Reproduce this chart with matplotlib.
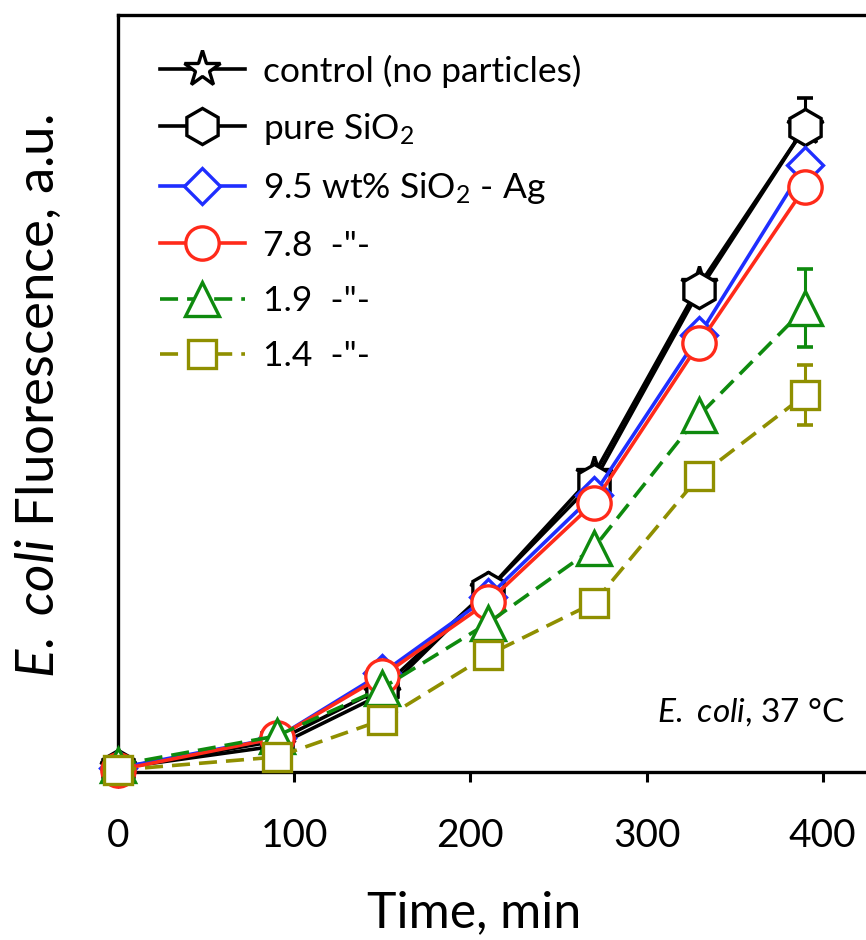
import matplotlib
matplotlib.use("Agg")
import matplotlib.pyplot as plt

plt.rcParams['font.family'] = ['Lato', 'DejaVu Sans']
plt.rcParams['mathtext.fontset'] = 'custom'
plt.rcParams['mathtext.rm'] = 'Lato'
plt.rcParams['mathtext.it'] = 'Lato:italic'

time = [0, 90, 150, 210, 270, 330, 390]
control = [0.04, 0.26, 0.78, 1.82, 2.97, 4.87, 6.45]
pure_sio2 = [0.04, 0.31, 0.84, 1.82, 2.90, 4.82, 6.45]
ag_95 = [0.04, 0.34, 0.99, 1.75, 2.77, 4.37, 6.07]
ag_78 = [0.02, 0.34, 0.96, 1.70, 2.69, 4.29, 5.85]
ag_19 = [0.07, 0.36, 0.84, 1.49, 2.24, 3.57, 4.64]
ag_14 = [0.02, 0.15, 0.52, 1.17, 1.69, 2.96, 3.77]

err_time = 390
err_control = 0.29
err_19 = 0.39
err_14 = 0.30

labels = ["control (no particles)", "pure SiO$_2$", "9.5 wt% SiO$_2$ - Ag",
          "7.8  -\"-", "1.9  -\"-", "1.4  -\"-"]

W, H = 866, 940
fig = plt.figure(figsize=(W/100, H/100), dpi=100)
ax = fig.add_axes([118/W, (H-772)/H, (880-118)/W, (772-15)/H])

blue = '#1F2EFF'
red = '#FF2A1A'
green = '#0E8A0E'
olive = '#8F8F00'
lw = 2.6
mew = 2.4

common = dict(markerfacecolor='white', markeredgewidth=mew, linewidth=lw, clip_on=False)
ax.plot(time, control, color='black', marker='*', markersize=27, zorder=3, label=labels[0], **common)
ax.plot(time, pure_sio2, color='black', marker='h', markersize=26, zorder=3.5, label=labels[1], **common)
ax.plot(time, ag_95, color=blue, marker='D', markersize=18, zorder=4, label=labels[2], **common)
ax.plot(time, ag_78, color=red, marker='o', markersize=24, zorder=5, label=labels[3], **common)
ax.plot(time, ag_19, color=green, marker='^', markersize=24, zorder=7, linestyle=(0, (5, 2.5)), label=labels[4], **common)
ax.plot(time, ag_14, color=olive, marker='s', markersize=20, zorder=8, linestyle=(0, (5, 2.5)), label=labels[5], **common)

i = time.index(err_time)
ax.errorbar([err_time], [control[i]], yerr=[err_control], fmt='none', ecolor='black',
            elinewidth=2.2, capsize=6, capthick=2.6, zorder=2)
ax.errorbar([err_time], [ag_19[i]], yerr=[err_19], fmt='none', ecolor=green,
            elinewidth=2.2, capsize=6, capthick=2.6, zorder=2)
ax.errorbar([err_time], [ag_14[i]], yerr=[err_14], fmt='none', ecolor=olive,
            elinewidth=2.2, capsize=6, capthick=2.6, zorder=2)

ax.set_xlim(0, 432.5)
ax.set_ylim(0, 7.57)
ax.set_xticks([0, 100, 200, 300, 400])
ax.set_yticks([])
ax.tick_params(axis='x', direction='out', length=7, width=2.2, labelsize=28, pad=26)
for s in ax.spines.values():
    s.set_linewidth(2.4)

ax.set_xlabel("Time, min", fontsize=36, va='baseline')
ax.xaxis.set_label_coords((474 - 118) / 762, -(927 - 772) / 757)
ax.set_ylabel(r"$\mathit{E.\ coli}$ Fluorescence, a.u.", fontsize=38, va='center')
ax.yaxis.set_label_coords(-(118 - 38) / 762, (772 - 396) / 757)

ax.text(0.955, 0.079, r"$\mathit{E.\ coli}$, 37 °C", transform=ax.transAxes,
        ha='right', va='center', fontsize=24)

handles, labs = ax.get_legend_handles_labels()
order = [labels.index(l) for l in labs]
hl = sorted(zip(order, handles, labs))
leg = ax.legend([h for _, h, _ in hl], [l for _, _, l in hl], loc='upper left',
                bbox_to_anchor=(0.055, 0.948), frameon=False, fontsize=25.5,
                handlelength=2.4, handletextpad=0.5, labelspacing=0.66,
                borderpad=0, borderaxespad=0)

fig.savefig("out.png", dpi=100)
